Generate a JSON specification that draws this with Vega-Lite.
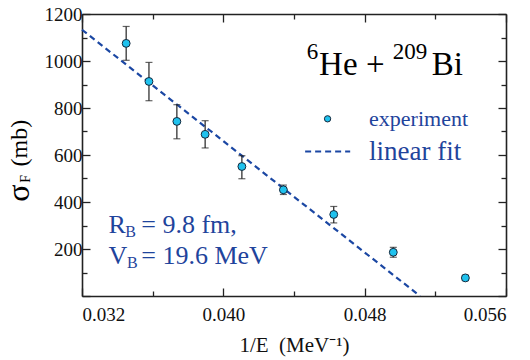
{
  "$schema": "https://vega.github.io/schema/vega-lite/v6.json",
  "width": 424,
  "height": 282,
  "autosize": {"type": "none"},
  "padding": {"left": 82, "top": 14, "right": 24, "bottom": 64},
  "background": "white",
  "config": {
    "view": {"stroke": null},
    "font": "Liberation Serif",
    "axis": {
      "labelFont": "Liberation Serif",
      "titleFont": "Liberation Serif",
      "labelFontSize": 19,
      "labelColor": "#111",
      "titleColor": "#111",
      "domainColor": "#222",
      "domainWidth": 1.6,
      "tickColor": "#222",
      "tickWidth": 1.3,
      "grid": false
    }
  },
  "datasets": {
    "pts": [
      {"x": 0.0345, "y": 1075, "lo": 1003, "hi": 1147},
      {"x": 0.03579, "y": 913, "lo": 831, "hi": 994},
      {"x": 0.03737, "y": 743, "lo": 669, "hi": 814},
      {"x": 0.03897, "y": 688, "lo": 630, "hi": 746},
      {"x": 0.04105, "y": 551, "lo": 499, "hi": 597},
      {"x": 0.0434, "y": 452, "lo": 432, "hi": 472},
      {"x": 0.04625, "y": 347, "lo": 311, "hi": 381},
      {"x": 0.04962, "y": 186, "lo": 165, "hi": 207},
      {"x": 0.0537, "y": 77, "lo": 66, "hi": 88}
    ],
    "fit": [
      {"x": 0.032, "y": 1133},
      {"x": 0.05113, "y": 0}
    ],
    "legline": [
      {"x": 0.04463, "y": 615},
      {"x": 0.04718, "y": 615}
    ],
    "legpt": [
      {"x": 0.0459, "y": 754}
    ],
    "labels": [
      {"role": "title", "x": 0.045421, "y": 942, "text": "He"},
      {"role": "title", "x": 0.04808, "y": 942, "text": "+"},
      {"role": "title", "x": 0.051796, "y": 942, "text": "Bi"},
      {"role": "titlesup", "x": 0.044726, "y": 1010, "text": "6"},
      {"role": "titlesup", "x": 0.04959, "y": 1010, "text": "209"},
      {"role": "anno", "x": 0.033505, "y": 268, "text": "R"},
      {"role": "anno", "x": 0.035354, "y": 268, "text": "= 9.8 fm,"},
      {"role": "anno", "x": 0.033505, "y": 136, "text": "V"},
      {"role": "anno", "x": 0.035354, "y": 136, "text": "= 19.6 MeV"},
      {"role": "annosub", "x": 0.034455, "y": 251, "text": "B"},
      {"role": "annosub", "x": 0.03455, "y": 119, "text": "B"},
      {"role": "legexp", "x": 0.04825, "y": 722, "text": "experiment"},
      {"role": "legfit", "x": 0.04825, "y": 580, "text": "linear fit"},
      {"role": "ysigma", "x": 0.02898, "y": 401, "text": "σ"},
      {"role": "ysub", "x": 0.02905, "y": 482, "text": "F"},
      {"role": "ymb", "x": 0.028906, "y": 551, "text": "(mb)"}
    ]
  },
  "resolve": {"axis": {"x": "independent", "y": "independent"}},
  "layer": [
    {
      "data": {"name": "fit"},
      "mark": {"type": "line", "color": "#1b47a3", "strokeWidth": 2.2, "strokeDash": [6, 4]},
      "encoding": {
        "x": {
          "field": "x", "type": "quantitative",
          "scale": {"domain": [0.032, 0.056], "nice": false, "zero": false},
          "axis": {
            "orient": "bottom",
            "values": [0.032, 0.036, 0.040, 0.044, 0.048, 0.052, 0.056],
            "labelExpr": "round(datum.value*1000) % 8 === 0 ? format(datum.value, '.3f') : ''",
            "labelFont": "Liberation Serif",
            "labelFontSize": 19,
            "tickSize": {"condition": {"test": "round(datum.value*1000) % 8 === 0", "value": -8}, "value": -5},
            "labelPadding": 17,
            "title": "1/E\u00a0\u00a0(MeV⁻¹)",
            "titleFont": "Liberation Serif",
            "titleFontSize": 21,
            "titleFontWeight": "normal",
            "titlePadding": 10
          }
        },
        "y": {
          "field": "y", "type": "quantitative",
          "scale": {"domain": [0, 1200], "nice": false, "zero": false},
          "axis": {
            "orient": "left",
            "values": [0, 100, 200, 300, 400, 500, 600, 700, 800, 900, 1000, 1100, 1200],
            "labelExpr": "datum.value % 200 === 0 && datum.value > 0 ? format(datum.value, 'd') : ''",
            "labelFont": "Liberation Serif",
            "labelFontSize": 19,
            "tickSize": {"condition": {"test": "datum.value % 200 === 0", "value": -8}, "value": -5},
            "labelPadding": 8,
            "title": null
          }
        }
      }
    },
    {
      "data": {"name": "pts"},
      "mark": {"type": "rule", "color": "#222", "strokeWidth": 1.2},
      "encoding": {
        "x": {
          "field": "x", "type": "quantitative",
          "axis": {
            "orient": "top",
            "values": [0.032, 0.036, 0.040, 0.044, 0.048, 0.052, 0.056],
            "labels": false,
            "tickSize": {"condition": {"test": "round(datum.value*1000) % 8 === 0", "value": -8}, "value": -5},
            "title": null
          }
        },
        "y": {
          "field": "lo", "type": "quantitative",
          "axis": {
            "orient": "right",
            "values": [0, 100, 200, 300, 400, 500, 600, 700, 800, 900, 1000, 1100, 1200],
            "labels": false,
            "tickSize": {"condition": {"test": "datum.value % 200 === 0", "value": -8}, "value": -5},
            "title": null
          }
        },
        "y2": {"field": "hi"}
      }
    },
    {
      "data": {"name": "pts"},
      "mark": {"type": "tick", "orient": "horizontal", "color": "#222", "size": 7, "thickness": 1.2},
      "encoding": {
        "x": {"field": "x", "type": "quantitative", "axis": null},
        "y": {"field": "lo", "type": "quantitative", "axis": null}
      }
    },
    {
      "data": {"name": "pts"},
      "mark": {"type": "tick", "orient": "horizontal", "color": "#222", "size": 7, "thickness": 1.2},
      "encoding": {
        "x": {"field": "x", "type": "quantitative", "axis": null},
        "y": {"field": "hi", "type": "quantitative", "axis": null}
      }
    },
    {
      "data": {"name": "pts"},
      "mark": {"type": "circle", "size": 62, "fill": "#1fc2ee", "fillOpacity": 1, "stroke": "#16283c", "strokeWidth": 1},
      "encoding": {
        "x": {"field": "x", "type": "quantitative", "axis": null},
        "y": {"field": "y", "type": "quantitative", "axis": null}
      }
    },
    {
      "data": {"name": "legpt"},
      "mark": {"type": "circle", "size": 40, "fill": "#1fc2ee", "fillOpacity": 1, "stroke": "#16283c", "strokeWidth": 1},
      "encoding": {
        "x": {"field": "x", "type": "quantitative", "axis": null},
        "y": {"field": "y", "type": "quantitative", "axis": null}
      }
    },
    {
      "data": {"name": "legline"},
      "mark": {"type": "line", "color": "#1b47a3", "strokeWidth": 2.2, "strokeDash": [6, 4]},
      "encoding": {
        "x": {"field": "x", "type": "quantitative", "axis": null},
        "y": {"field": "y", "type": "quantitative", "axis": null}
      }
    },
    {
      "data": {"name": "labels"},
      "transform": [{"filter": "datum.role === 'title'"}],
      "mark": {"type": "text", "font": "Liberation Serif", "fontSize": 33, "align": "left", "baseline": "alphabetic", "color": "#000"},
      "encoding": {
        "x": {"field": "x", "type": "quantitative", "axis": null},
        "y": {"field": "y", "type": "quantitative", "axis": null},
        "text": {"field": "text"}
      }
    },
    {
      "data": {"name": "labels"},
      "transform": [{"filter": "datum.role === 'titlesup'"}],
      "mark": {"type": "text", "font": "Liberation Serif", "fontSize": 23, "align": "left", "baseline": "alphabetic", "color": "#000"},
      "encoding": {
        "x": {"field": "x", "type": "quantitative", "axis": null},
        "y": {"field": "y", "type": "quantitative", "axis": null},
        "text": {"field": "text"}
      }
    },
    {
      "data": {"name": "labels"},
      "transform": [{"filter": "datum.role === 'anno'"}],
      "mark": {"type": "text", "font": "Liberation Serif", "fontSize": 26, "align": "left", "baseline": "alphabetic", "color": "#1f449c"},
      "encoding": {
        "x": {"field": "x", "type": "quantitative", "axis": null},
        "y": {"field": "y", "type": "quantitative", "axis": null},
        "text": {"field": "text"}
      }
    },
    {
      "data": {"name": "labels"},
      "transform": [{"filter": "datum.role === 'annosub'"}],
      "mark": {"type": "text", "font": "Liberation Serif", "fontSize": 16, "align": "left", "baseline": "alphabetic", "color": "#1f449c"},
      "encoding": {
        "x": {"field": "x", "type": "quantitative", "axis": null},
        "y": {"field": "y", "type": "quantitative", "axis": null},
        "text": {"field": "text"}
      }
    },
    {
      "data": {"name": "labels"},
      "transform": [{"filter": "datum.role === 'legexp'"}],
      "mark": {"type": "text", "font": "Liberation Serif", "fontSize": 22, "align": "left", "baseline": "alphabetic", "color": "#1f449c"},
      "encoding": {
        "x": {"field": "x", "type": "quantitative", "axis": null},
        "y": {"field": "y", "type": "quantitative", "axis": null},
        "text": {"field": "text"}
      }
    },
    {
      "data": {"name": "labels"},
      "transform": [{"filter": "datum.role === 'legfit'"}],
      "mark": {"type": "text", "font": "Liberation Serif", "fontSize": 27, "align": "left", "baseline": "alphabetic", "color": "#1f449c"},
      "encoding": {
        "x": {"field": "x", "type": "quantitative", "axis": null},
        "y": {"field": "y", "type": "quantitative", "axis": null},
        "text": {"field": "text"}
      }
    },
    {
      "data": {"name": "labels"},
      "transform": [{"filter": "datum.role === 'ysigma'"}],
      "mark": {"type": "text", "font": "Liberation Serif", "fontSize": 32, "align": "left", "baseline": "alphabetic", "angle": -90, "color": "#000"},
      "encoding": {
        "x": {"field": "x", "type": "quantitative", "axis": null},
        "y": {"field": "y", "type": "quantitative", "axis": null},
        "text": {"field": "text"}
      }
    },
    {
      "data": {"name": "labels"},
      "transform": [{"filter": "datum.role === 'ysub'"}],
      "mark": {"type": "text", "font": "Liberation Serif", "fontSize": 14, "align": "left", "baseline": "alphabetic", "angle": -90, "color": "#000"},
      "encoding": {
        "x": {"field": "x", "type": "quantitative", "axis": null},
        "y": {"field": "y", "type": "quantitative", "axis": null},
        "text": {"field": "text"}
      }
    },
    {
      "data": {"name": "labels"},
      "transform": [{"filter": "datum.role === 'ymb'"}],
      "mark": {"type": "text", "font": "Liberation Serif", "fontSize": 24, "align": "left", "baseline": "alphabetic", "angle": -90, "color": "#000"},
      "encoding": {
        "x": {"field": "x", "type": "quantitative", "axis": null},
        "y": {"field": "y", "type": "quantitative", "axis": null},
        "text": {"field": "text"}
      }
    }
  ]
}
